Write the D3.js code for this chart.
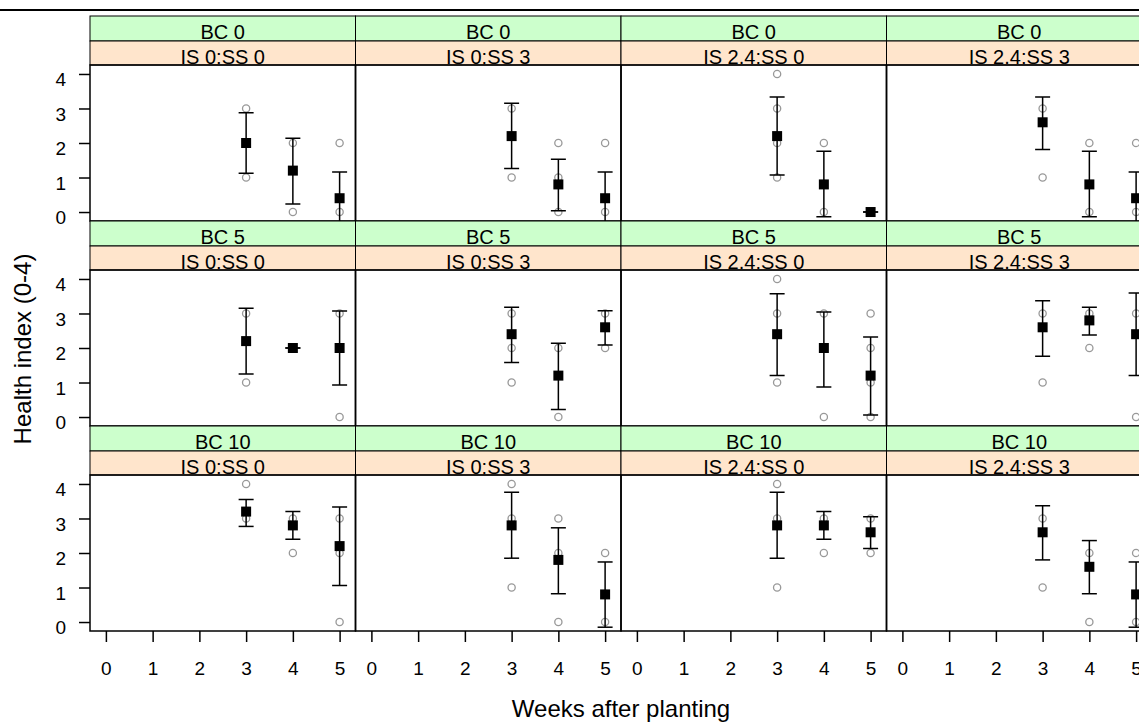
<!DOCTYPE html>
<html>
<head>
<meta charset="utf-8">
<script src="https://cdn.jsdelivr.net/npm/d3@7"></script>
<style>
  body { margin: 0; background: #fff; }
  svg { display: block; font-family: "Liberation Sans", Arial, sans-serif; }
</style>
</head>
<body>
<svg></svg>
<script>
// ---- data ----
const bcLevels = ['BC 0', 'BC 5', 'BC 10'];
const treatLevels = ['IS 0:SS 0', 'IS 0:SS 3', 'IS 2.4:SS 0', 'IS 2.4:SS 3'];
const weeks = [3, 4, 5];
const weekTicks = [0, 1, 2, 3, 4, 5];
const healthTicks = [0, 1, 2, 3, 4];

// one entry per panel, row by row (BC), then by treatment; inner values per week 3,4,5
const meanValues = [
  [2.0, 1.2, 0.4], [2.2, 0.8, 0.4], [2.2, 0.8, 0.0], [2.6, 0.8, 0.4],
  [2.2, 2.0, 2.0], [2.4, 1.2, 2.6], [2.4, 2.0, 1.2], [2.6, 2.8, 2.4],
  [3.2, 2.8, 2.2], [2.8, 1.8, 0.8], [2.8, 2.8, 2.6], [2.6, 1.6, 0.8]
];
const upperValues = [
  [2.88, 2.14, 1.16], [3.15, 1.53, 1.16], [3.33, 1.76, 0.0], [3.33, 1.76, 1.16],
  [3.15, 2.0, 3.07], [3.18, 2.14, 3.08], [3.57, 3.04, 2.32], [3.37, 3.18, 3.59],
  [3.55, 3.2, 3.33], [3.76, 2.73, 1.74], [3.76, 3.2, 3.05], [3.37, 2.36, 1.74]
];
const lowerValues = [
  [1.12, 0.23, -0.36], [1.26, 0.04, -0.36], [1.07, -0.14, 0.0], [1.81, -0.14, -0.36],
  [1.25, 2.0, 0.93], [1.58, 0.22, 2.09], [1.2, 0.87, 0.06], [1.76, 2.38, 1.2],
  [2.77, 2.4, 1.06], [1.85, 0.82, -0.15], [1.85, 2.4, 2.13], [1.8, 0.82, -0.15]
];
// observed plant scores (distinct values visible) per week
const obsValues = [
  [[3, 1], [2, 0], [2, 0]], [[3, 1], [2, 1, 0], [2, 0]], [[4, 3, 2, 1], [2, 0], [0]], [[3, 1], [2, 0], [2, 0]],
  [[3, 1], [2], [3, 0]], [[3, 2, 1], [2, 0], [3, 2]], [[4, 3, 1], [3, 0], [3, 2, 1, 0]], [[3, 1], [3, 2], [3, 0]],
  [[4, 3], [3, 2], [3, 2, 0]], [[4, 3, 1], [3, 2, 0], [2, 0]], [[4, 3, 1], [3, 2], [3, 2]], [[3, 1], [2, 0], [2, 0]]
];

// ---- layout ----
const size = {w: 1139, h: 724};
const grid = {l: 90, t: 16, pw: 265.5, s1: 25, s2: 24, ph: 156};
const rowH = grid.s1 + grid.s2 + grid.ph;
const svg = d3.select('svg').attr('width', size.w).attr('height', size.h);

const x = d3.scaleLinear().domain([-0.34, 5.34]).range([0, grid.pw]);
const y = d3.scaleLinear().domain([-0.26, 4.26]).range([grid.ph, 0]);

// rule across the top
svg.append('line')
  .attr('x1', 0).attr('x2', size.w)
  .attr('y1', 10).attr('y2', 10)
  .attr('stroke', '#000').attr('stroke-width', 2);

const panels = [];
bcLevels.forEach((bc, r) => {
  treatLevels.forEach((tr, c) => panels.push({bc, tr, r, c, i: r * 4 + c}));
});

const defs = svg.append('defs');
defs.append('clipPath').attr('id', 'pclip')
  .append('rect').attr('width', grid.pw).attr('height', grid.ph);

panels.forEach(p => {
  const g = svg.append('g')
    .attr('transform', `translate(${grid.l + p.c * grid.pw}, ${grid.t + p.r * rowH})`);

  // strips
  g.append('rect').attr('width', grid.pw).attr('height', grid.s1)
    .attr('fill', '#ccffcc').attr('stroke', '#000').attr('stroke-width', 1);
  g.append('rect').attr('y', grid.s1).attr('width', grid.pw).attr('height', grid.s2)
    .attr('fill', '#ffe5cc').attr('stroke', '#000').attr('stroke-width', 1);
  g.append('text').attr('x', grid.pw / 2).attr('y', grid.s1 - 2)
    .attr('text-anchor', 'middle').attr('font-size', 20).text(p.bc);
  g.append('text').attr('x', grid.pw / 2).attr('y', grid.s1 + grid.s2 - 1)
    .attr('text-anchor', 'middle').attr('font-size', 20).text(p.tr);

  const pg = g.append('g').attr('transform', `translate(0, ${grid.s1 + grid.s2})`);
  const plot = pg.append('g').attr('clip-path', 'url(#pclip)');

  // raw observations
  weeks.forEach((wk, k) => {
    plot.selectAll(null)
      .data(obsValues[p.i][k])
      .enter()
      .append('circle')
      .attr('cx', x(wk)).attr('cy', d => y(d)).attr('r', 3.6)
      .attr('fill', 'none').attr('stroke', '#999').attr('stroke-width', 1.3);
  });

  // error bars
  const bars = weeks.map((wk, k) => ({wk, m: meanValues[p.i][k], lo: lowerValues[p.i][k], hi: upperValues[p.i][k]}));
  const eb = plot.selectAll('g.eb').data(bars).enter().append('g').classed('eb', true)
    .attr('stroke', '#000').attr('stroke-width', 1.5);
  eb.append('line')
    .attr('x1', d => x(d.wk)).attr('x2', d => x(d.wk))
    .attr('y1', d => y(d.lo)).attr('y2', d => y(d.hi));
  eb.append('line')
    .attr('x1', d => x(d.wk) - 7.5).attr('x2', d => x(d.wk) + 7.5)
    .attr('y1', d => y(d.hi)).attr('y2', d => y(d.hi));
  eb.append('line')
    .attr('x1', d => x(d.wk) - 7.5).attr('x2', d => x(d.wk) + 7.5)
    .attr('y1', d => y(d.lo)).attr('y2', d => y(d.lo));

  // means
  plot.selectAll('rect.mean').data(bars).enter().append('rect').classed('mean', true)
    .attr('x', d => x(d.wk) - 5).attr('y', d => y(d.m) - 5)
    .attr('width', 10).attr('height', 10).attr('fill', '#000');

  pg.append('rect').attr('width', grid.pw).attr('height', grid.ph)
    .attr('fill', 'none').attr('stroke', '#000').attr('stroke-width', 1.5);

  // axes on the outer panels only
  if (p.c === 0) {
    const ya = pg.append('g')
      .call(d3.axisLeft(y).tickValues(healthTicks).tickSize(11).tickPadding(13).tickFormat(d3.format('d')));
    ya.select('.domain').remove();
    ya.selectAll('line').attr('stroke-width', 1.5);
    ya.selectAll('text').attr('font-size', 19).attr('font-family', null).attr('dy', '0.62em');
  }
  if (p.r === bcLevels.length - 1) {
    const xa = pg.append('g').attr('transform', `translate(0, ${grid.ph})`)
      .call(d3.axisBottom(x).tickValues(weekTicks).tickSize(11).tickPadding(20).tickFormat(d3.format('d')));
    xa.select('.domain').remove();
    xa.selectAll('line').attr('stroke-width', 1.5);
    xa.selectAll('text').attr('font-size', 19).attr('font-family', null);
  }
});

// axis titles
svg.append('text')
  .attr('x', grid.l + 2 * grid.pw).attr('y', 717)
  .attr('text-anchor', 'middle').attr('font-size', 24)
  .text('Weeks after planting');
svg.append('text')
  .attr('transform', 'translate(31, 349) rotate(-90)')
  .attr('text-anchor', 'middle').attr('font-size', 24)
  .text('Health index (0-4)');
</script>
</body>
</html>
